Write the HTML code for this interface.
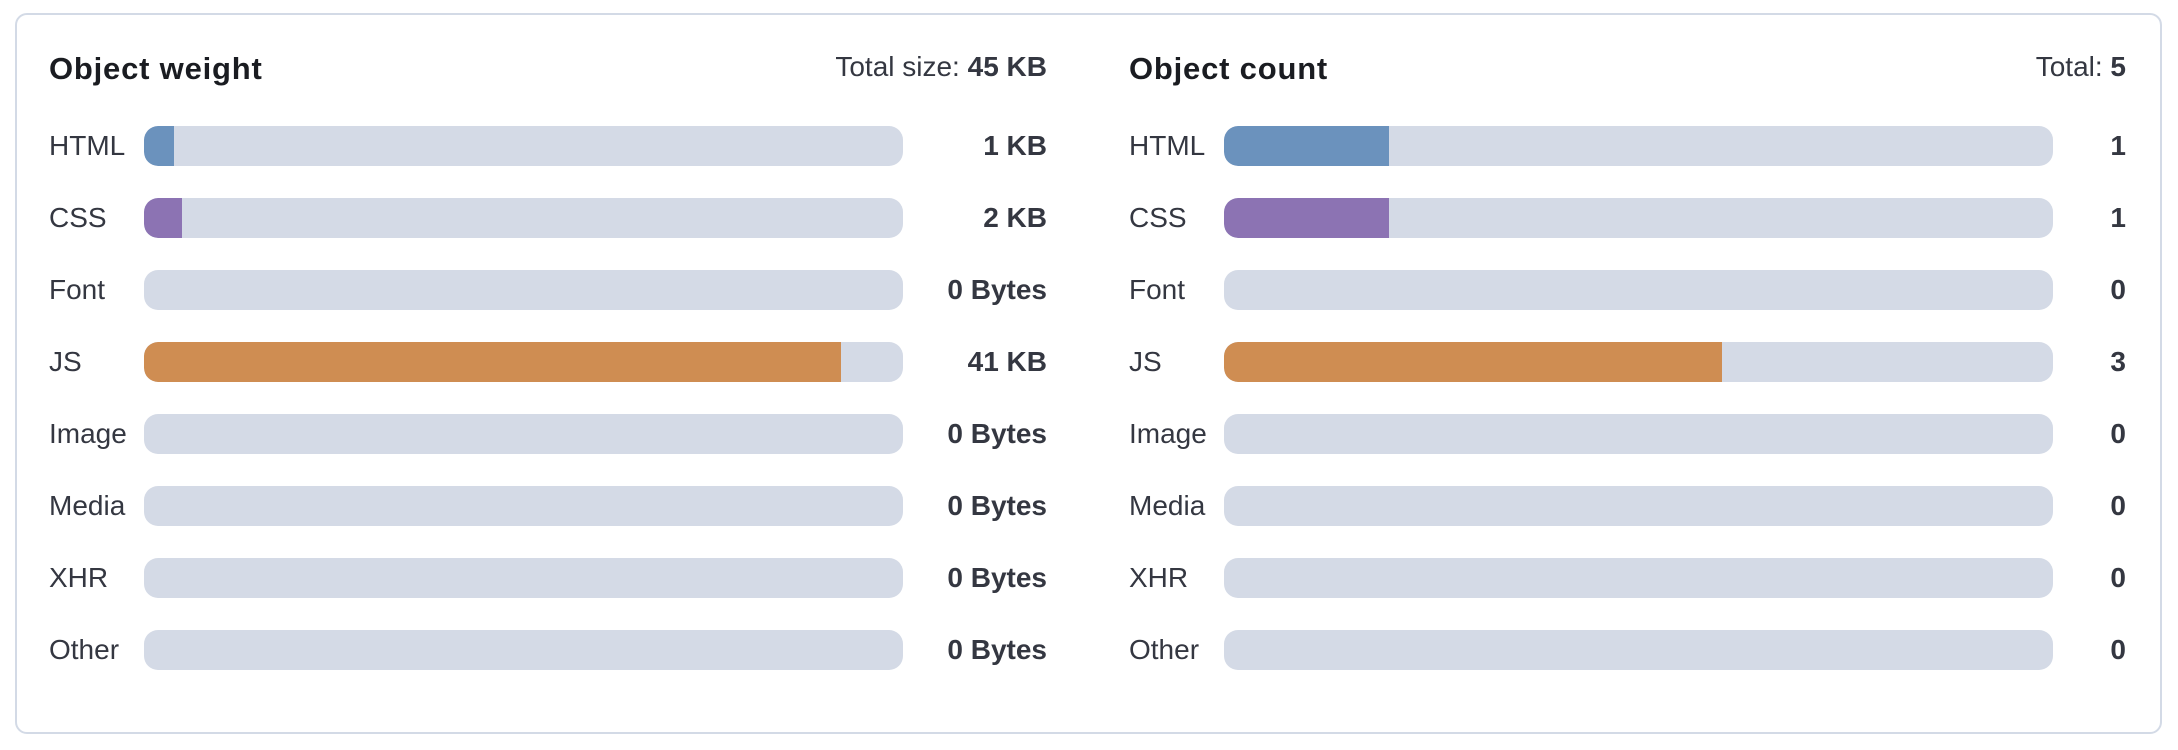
<!DOCTYPE html>
<html><head><meta charset="utf-8"><style>
*{margin:0;padding:0;box-sizing:border-box}
body{width:2178px;height:750px;background:#fff;position:relative;font-family:"Liberation Sans",sans-serif;color:#343741;overflow:hidden}
.card{position:absolute;left:15px;top:13px;width:2147px;height:721px;border:2px solid #d3dae6;border-radius:12px}
.t{position:absolute;font-size:28px;line-height:40px;white-space:nowrap}
.title{font-weight:bold;color:#1a1c21;font-size:31px;letter-spacing:0.8px}
.r{text-align:right}
.b{font-weight:bold}
.track{position:absolute;height:40px;background:#d4dae6;border-radius:14px;overflow:hidden}
.fill{position:absolute;left:0;top:0;height:40px;border-radius:14px 0 0 14px}
</style></head><body>
<div class="card"></div>
<div class="t title" style="left:49px;top:49px">Object weight</div>
<div class="t r" style="right:1131px;top:47px;">Total size: <span class="b">45 KB</span></div>
<div class="t title" style="left:1129px;top:49px">Object count</div>
<div class="t r" style="right:52px;top:47px;">Total: <span class="b">5</span></div>

<div class="t" style="left:49px;top:126px">HTML</div>
<div class="track" style="left:144px;top:126px;width:759px"><div class="fill" style="width:30px;background:#6b92bd"></div></div>
<div class="t r b" style="right:1131px;top:126px">1 KB</div>
<div class="t" style="left:1129px;top:126px">HTML</div>
<div class="track" style="left:1224px;top:126px;width:829px"><div class="fill" style="width:165px;background:#6b92bd"></div></div>
<div class="t r b" style="right:52px;top:126px">1</div>

<div class="t" style="left:49px;top:198px">CSS</div>
<div class="track" style="left:144px;top:198px;width:759px"><div class="fill" style="width:38px;background:#8c73b3"></div></div>
<div class="t r b" style="right:1131px;top:198px">2 KB</div>
<div class="t" style="left:1129px;top:198px">CSS</div>
<div class="track" style="left:1224px;top:198px;width:829px"><div class="fill" style="width:165px;background:#8c73b3"></div></div>
<div class="t r b" style="right:52px;top:198px">1</div>

<div class="t" style="left:49px;top:270px">Font</div>
<div class="track" style="left:144px;top:270px;width:759px"></div>
<div class="t r b" style="right:1131px;top:270px">0 Bytes</div>
<div class="t" style="left:1129px;top:270px">Font</div>
<div class="track" style="left:1224px;top:270px;width:829px"></div>
<div class="t r b" style="right:52px;top:270px">0</div>

<div class="t" style="left:49px;top:342px">JS</div>
<div class="track" style="left:144px;top:342px;width:759px"><div class="fill" style="width:697px;background:#cf8d52"></div></div>
<div class="t r b" style="right:1131px;top:342px">41 KB</div>
<div class="t" style="left:1129px;top:342px">JS</div>
<div class="track" style="left:1224px;top:342px;width:829px"><div class="fill" style="width:498px;background:#cf8d52"></div></div>
<div class="t r b" style="right:52px;top:342px">3</div>

<div class="t" style="left:49px;top:414px">Image</div>
<div class="track" style="left:144px;top:414px;width:759px"></div>
<div class="t r b" style="right:1131px;top:414px">0 Bytes</div>
<div class="t" style="left:1129px;top:414px">Image</div>
<div class="track" style="left:1224px;top:414px;width:829px"></div>
<div class="t r b" style="right:52px;top:414px">0</div>

<div class="t" style="left:49px;top:486px">Media</div>
<div class="track" style="left:144px;top:486px;width:759px"></div>
<div class="t r b" style="right:1131px;top:486px">0 Bytes</div>
<div class="t" style="left:1129px;top:486px">Media</div>
<div class="track" style="left:1224px;top:486px;width:829px"></div>
<div class="t r b" style="right:52px;top:486px">0</div>

<div class="t" style="left:49px;top:558px">XHR</div>
<div class="track" style="left:144px;top:558px;width:759px"></div>
<div class="t r b" style="right:1131px;top:558px">0 Bytes</div>
<div class="t" style="left:1129px;top:558px">XHR</div>
<div class="track" style="left:1224px;top:558px;width:829px"></div>
<div class="t r b" style="right:52px;top:558px">0</div>

<div class="t" style="left:49px;top:630px">Other</div>
<div class="track" style="left:144px;top:630px;width:759px"></div>
<div class="t r b" style="right:1131px;top:630px">0 Bytes</div>
<div class="t" style="left:1129px;top:630px">Other</div>
<div class="track" style="left:1224px;top:630px;width:829px"></div>
<div class="t r b" style="right:52px;top:630px">0</div>
</body></html>
